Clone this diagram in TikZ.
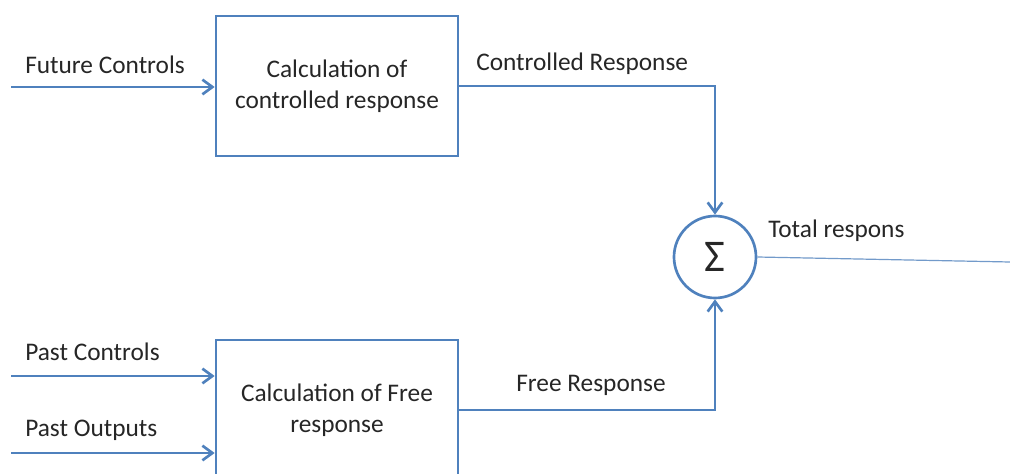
\documentclass[tikz,border=0pt]{standalone}
\usepackage{fontspec}
\setmainfont{Carlito}
\usetikzlibrary{arrows.meta}
\definecolor{lineblue}{HTML}{4F81BD}
\definecolor{txt}{HTML}{262626}
\begin{document}
\begin{tikzpicture}[x=0.75pt,y=-0.75pt,
  font=\fontsize{19}{23.25}\selectfont,
  every node/.style={text=txt},
  blk/.style={draw=lineblue,line width=2pt,minimum width=181.5pt,minimum height=105pt,inner sep=0pt,align=center},
  sumnode/.style={draw=lineblue,line width=2pt,circle,minimum size=61.5pt,inner sep=0pt},
  conn/.style={draw=lineblue,line width=2pt},
  arr/.style={conn,-{Straight Barb[length=7.5pt,width=11pt,line width=2pt]}},
  lbl/.style={anchor=west,inner sep=0pt}]
\useasboundingbox (0,0) rectangle (1010,474);
\clip (0,0) rectangle (1010,474);

\node[blk] (top) at (337,86) {Calculation of\\controlled response};
\node[blk] (bot) at (337,410) {Calculation of Free\\response};
\node[sumnode] (sum) at (715,257) {\fontsize{34}{36}\selectfont Σ};

\coordinate (fc) at (11,87);
\coordinate (pc) at (11,376);
\coordinate (po) at (11,453);
\coordinate (out) at (1010,262);

\draw[arr] (fc) -- (top.west |- fc);
\draw[arr] (pc) -- (bot.west |- pc);
\draw[arr] (po) -- (bot.west |- po);
\draw[arr] (top.east) -| (sum.north);
\draw[arr] (bot.east) -| (sum.south);
\draw[draw=lineblue!80,line width=0.9pt] (sum.east) -- (out);

\node[lbl] (lfc) at (25,65) {Future Controls};
\node[lbl] (lpc) at (25,352) {Past Controls};
\node[lbl] (lpo) at (25,430) {Past Outputs};
\node[lbl] (lcr) at (476,64) {Controlled Response};
\node[lbl] (lfr) at (516,385) {Free Response};
\node[lbl] (ltr) at (768,231) {Total respons};
\end{tikzpicture}
\end{document}
